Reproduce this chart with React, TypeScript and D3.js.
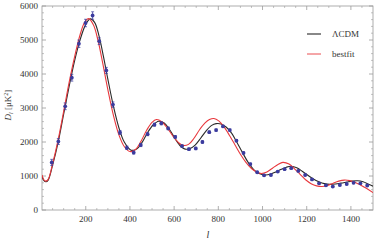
import * as d3 from 'd3'

const W = 374, H = 242
const margin = { top: 6, right: 1, bottom: 32, left: 42 }

// binned data points
const ells = [46, 76, 107, 137, 169, 199, 231, 261, 293, 323, 355, 386, 417, 449, 480, 511, 542, 573, 605, 636, 667, 698, 728, 759, 790, 821, 852, 882, 914, 945, 976, 1007, 1038, 1069, 1100, 1130, 1162, 1193, 1224, 1256, 1287, 1318, 1350, 1381, 1412, 1443, 1474]
const dls = [1400, 2015, 3050, 3890, 4890, 5500, 5720, 4965, 4105, 3100, 2280, 1830, 1690, 1910, 2230, 2510, 2550, 2400, 2150, 1880, 1790, 1810, 2000, 2290, 2350, 2460, 2350, 2040, 1680, 1350, 1110, 1020, 1030, 1130, 1200, 1230, 1150, 1030, 900, 785, 725, 690, 735, 765, 800, 785, 720]
const errs = [90, 90, 100, 100, 110, 110, 110, 100, 90, 80, 60, 50, 45, 45, 45, 45, 45, 40, 40, 35, 35, 35, 35, 35, 35, 35, 35, 30, 30, 30, 25, 25, 25, 25, 25, 25, 25, 25, 25, 25, 25, 25, 25, 25, 25, 25, 25]

// LCDM model curve
const lcdmL = [2, 10, 20, 30, 50, 75, 100, 125, 150, 175, 200, 220, 240, 260, 280, 300, 325, 350, 375, 405, 430, 455, 480, 505, 530, 555, 580, 605, 630, 650, 670, 695, 720, 745, 770, 790, 812, 835, 860, 885, 910, 935, 960, 985, 1010, 1035, 1060, 1085, 1108, 1130, 1155, 1180, 1205, 1230, 1255, 1280, 1305, 1330, 1355, 1380, 1405, 1430, 1455, 1480, 1500]
const lcdmD = [1000, 870, 830, 880, 1320, 1990, 2820, 3640, 4400, 5020, 5460, 5620, 5520, 5120, 4520, 3850, 3060, 2420, 1990, 1760, 1790, 1990, 2280, 2500, 2610, 2560, 2360, 2090, 1870, 1790, 1800, 1910, 2110, 2330, 2490, 2540, 2530, 2440, 2260, 1980, 1680, 1400, 1190, 1070, 1030, 1050, 1120, 1200, 1260, 1285, 1240, 1140, 1020, 910, 830, 775, 755, 765, 790, 820, 850, 860, 830, 760, 700]

// bestfit model curve
const bestL = [2, 10, 20, 30, 50, 75, 100, 125, 150, 175, 195, 213, 235, 255, 275, 300, 325, 350, 375, 400, 425, 450, 475, 500, 520, 545, 570, 595, 620, 640, 665, 690, 715, 740, 760, 780, 802, 825, 850, 875, 900, 925, 950, 975, 995, 1020, 1045, 1070, 1092, 1120, 1145, 1170, 1195, 1220, 1245, 1268, 1295, 1320, 1345, 1370, 1395, 1420, 1445, 1470, 1500]
const bestD = [1030, 890, 850, 900, 1360, 2060, 2900, 3760, 4520, 5170, 5520, 5630, 5440, 5000, 4380, 3540, 2790, 2210, 1860, 1720, 1780, 2020, 2340, 2580, 2660, 2590, 2400, 2170, 1980, 1900, 1930, 2110, 2360, 2560, 2660, 2690, 2620, 2450, 2200, 1920, 1640, 1400, 1220, 1110, 1075, 1120, 1230, 1340, 1400, 1350, 1210, 1050, 890, 775, 710, 690, 720, 790, 850, 880, 865, 810, 730, 640, 510]

const xTicks = [200, 400, 600, 800, 1000, 1200, 1400]
const yTicks = [0, 1000, 2000, 3000, 4000, 5000, 6000]

const frameColor = '#9a9a9a'
const labelColor = '#333'
const font = '"Liberation Serif", "DejaVu Serif", serif'

export default function App() {
  const x = d3.scaleLinear().domain([2, 1500]).range([margin.left, W - margin.right])
  const y = d3.scaleLinear().domain([0, 6000]).range([H - margin.bottom, margin.top])
  const x0 = margin.left, x1 = W - margin.right
  const y0 = H - margin.bottom, y1 = margin.top

  const model = d3.line<[number, number]>()
    .x(d => x(d[0])).y(d => y(d[1]))
    .curve(d3.curveCatmullRom.alpha(0.5))
  const lcdmPath = model(lcdmL.map((l, i) => [l, lcdmD[i]]))
  const bestPath = model(bestL.map((l, i) => [l, bestD[i]]))

  const xMinor = d3.range(50, 1500, 50).filter(v => v % 200 !== 0)
  const yMinor = d3.range(200, 6000, 200).filter(v => v % 1000 !== 0)

  return (
    <svg width={W} height={H} style={{ position: 'absolute', left: 0, top: 0 }}>
      <rect width={W} height={H} fill='#fff' />
      <defs>
        <clipPath id='plot'>
          <rect x={x0} y={y1} width={x1 - x0} height={y0 - y1} />
        </clipPath>
      </defs>

      {/* frame */}
      <rect x={x0} y={y1} width={x1 - x0} height={y0 - y1} fill='none' stroke={frameColor} strokeWidth={0.8} />

      {/* x ticks, bottom and top */}
      {xTicks.map(t => (
        <g key={'xt' + t}>
          <line x1={x(t)} x2={x(t)} y1={y0} y2={y0 - 4} stroke={frameColor} strokeWidth={0.8} />
          <line x1={x(t)} x2={x(t)} y1={y1} y2={y1 + 4} stroke={frameColor} strokeWidth={0.8} />
          <text x={x(t)} y={y0 + 12} textAnchor='middle' fontSize={9} fontFamily={font} fill={labelColor}>{t}</text>
        </g>
      ))}
      {xMinor.map(t => (
        <g key={'xm' + t}>
          <line x1={x(t)} x2={x(t)} y1={y0} y2={y0 - 2} stroke={frameColor} strokeWidth={0.6} />
          <line x1={x(t)} x2={x(t)} y1={y1} y2={y1 + 2} stroke={frameColor} strokeWidth={0.6} />
        </g>
      ))}

      {/* y ticks, left and right */}
      {yTicks.map(t => (
        <g key={'yt' + t}>
          <line x1={x0} x2={x0 + 4} y1={y(t)} y2={y(t)} stroke={frameColor} strokeWidth={0.8} />
          <line x1={x1} x2={x1 - 4} y1={y(t)} y2={y(t)} stroke={frameColor} strokeWidth={0.8} />
          <text x={x0 - 4} y={y(t) + 3} textAnchor='end' fontSize={9} fontFamily={font} fill={labelColor}>{t}</text>
        </g>
      ))}
      {yMinor.map(t => (
        <g key={'ym' + t}>
          <line x1={x0} x2={x0 + 2} y1={y(t)} y2={y(t)} stroke={frameColor} strokeWidth={0.6} />
          <line x1={x1} x2={x1 - 2} y1={y(t)} y2={y(t)} stroke={frameColor} strokeWidth={0.6} />
        </g>
      ))}

      <g clipPath='url(#plot)'>
        <path d={lcdmPath ?? ''} fill='none' stroke='#2a2a2a' strokeWidth={1.1} />
        <path d={bestPath ?? ''} fill='none' stroke='#e8383d' strokeWidth={1.1} />
        {ells.map((l, i) => (
          <g key={'p' + l} stroke='#3b3b9e' fill='#3b3b9e'>
            <line x1={x(l)} x2={x(l)} y1={y(dls[i] - errs[i])} y2={y(dls[i] + errs[i])} strokeWidth={0.8} />
            <line x1={x(l) - 1.5} x2={x(l) + 1.5} y1={y(dls[i] - errs[i])} y2={y(dls[i] - errs[i])} strokeWidth={0.7} />
            <line x1={x(l) - 1.5} x2={x(l) + 1.5} y1={y(dls[i] + errs[i])} y2={y(dls[i] + errs[i])} strokeWidth={0.7} />
            <circle cx={x(l)} cy={y(dls[i])} r={1.9} stroke='none' />
          </g>
        ))}
      </g>

      {/* legend */}
      <line x1={307} x2={321} y1={34} y2={34} stroke='#555' strokeWidth={1.4} />
      <text x={332} y={37} fontSize={9} fontFamily={font} fill={labelColor}>ΛCDM</text>
      <line x1={307} x2={321} y1={54} y2={54} stroke='#e8383d' strokeWidth={0.9} />
      <text x={332} y={57} fontSize={9} fontFamily={font} fill={labelColor}>bestfit</text>

      {/* axis labels */}
      <text x={208} y={238} textAnchor='middle' fontSize={10} fontFamily={font} fontStyle='italic' fill={labelColor}>l</text>
      <text transform='translate(11,105) rotate(-90)' textAnchor='middle' fontSize={9} fontFamily={font} fill={labelColor}>
        <tspan fontStyle='italic'>D</tspan>
        <tspan fontStyle='italic' fontSize={6} dy={2}>l</tspan>
        <tspan dy={-2}> [μK</tspan>
        <tspan fontSize={6} dy={-3}>2</tspan>
        <tspan dy={3}>]</tspan>
      </text>
    </svg>
  )
}
